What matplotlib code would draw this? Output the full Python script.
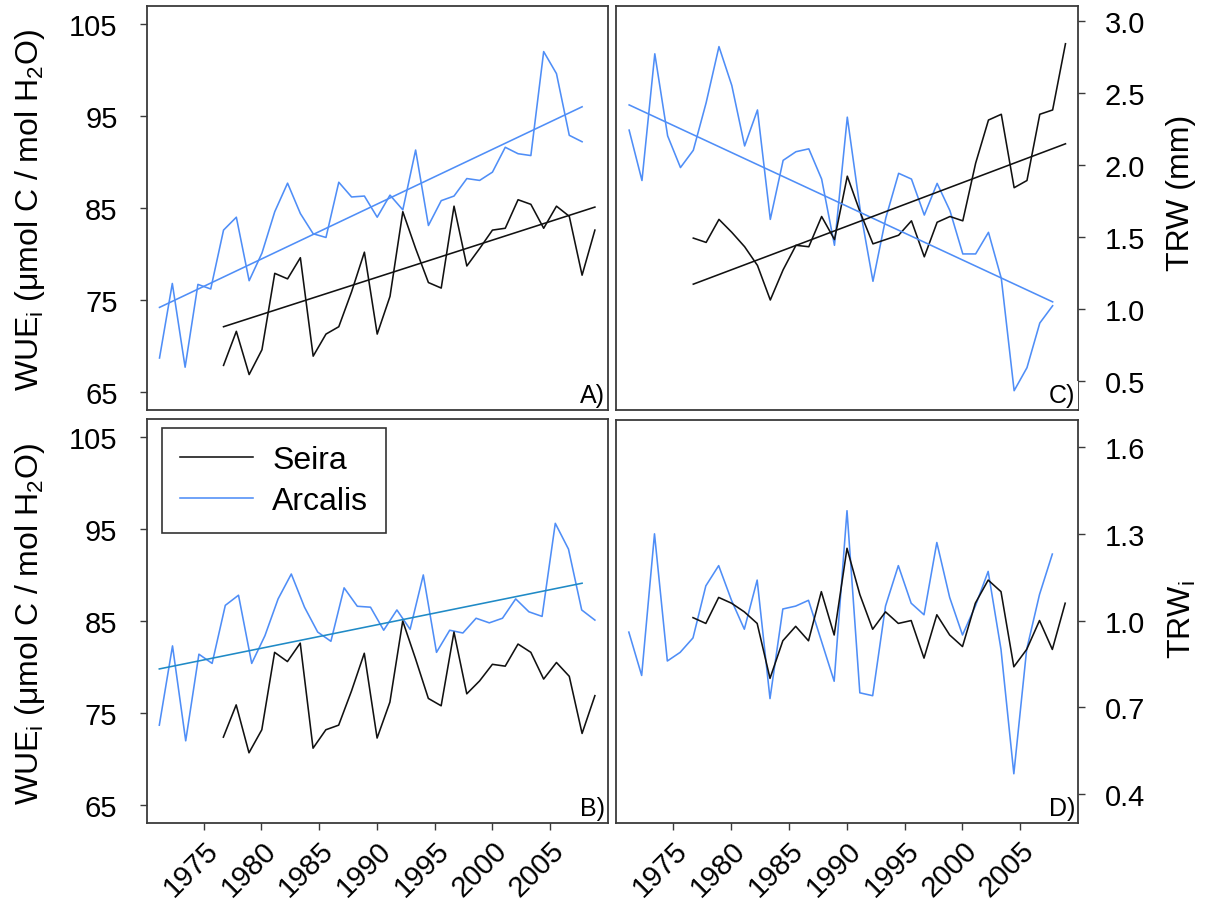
import numpy as np
import matplotlib
matplotlib.use('Agg')
import matplotlib.pyplot as plt
from matplotlib.lines import Line2D

plt.rcParams['font.family'] = ['Liberation Sans', 'DejaVu Sans']
plt.rcParams['mathtext.default'] = 'regular'

# ---------------- data ----------------
years_arcalis = np.arange(1975, 2009)   # 34 points
years_seira = np.arange(1980, 2010)     # 30 points

wue_arcalis_A = [68.7, 76.8, 67.7, 76.7, 76.2, 82.6, 84.0, 77.1, 80.1, 84.6,
                 87.7, 84.4, 82.2, 81.8, 87.8, 86.2, 86.3, 84.0, 86.4, 84.8,
                 91.3, 83.1, 85.8, 86.3, 88.2, 88.0, 88.9, 91.6, 90.9, 90.7,
                 102.0, 99.6, 92.9, 92.2]
wue_seira_A = [67.9, 71.6, 66.9, 69.6, 77.9, 77.3, 79.6, 68.9, 71.3, 72.1,
               75.9, 80.2, 71.3, 75.4, 84.6, 80.6, 76.9, 76.3, 85.2, 78.7,
               80.6, 82.6, 82.8, 85.9, 85.4, 82.8, 85.2, 84.1, 77.7, 82.6]

wue_arcalis_B = [73.7, 82.3, 72.0, 81.4, 80.4, 86.7, 87.8, 80.4, 83.4, 87.4,
                 90.1, 86.5, 83.8, 82.8, 88.6, 86.6, 86.5, 84.0, 86.2, 84.1,
                 90.0, 81.6, 84.0, 83.7, 85.3, 84.8, 85.3, 87.4, 86.0, 85.5,
                 95.6, 92.8, 86.2, 85.1]
wue_seira_B = [72.4, 75.9, 70.7, 73.2, 81.6, 80.6, 82.6, 71.2, 73.2, 73.7,
               77.4, 81.5, 72.3, 76.2, 85.0, 80.9, 76.6, 75.8, 83.8, 77.1,
               78.5, 80.3, 80.1, 82.5, 81.6, 78.7, 80.5, 79.0, 72.8, 76.9]

trw_arcalis = [2.24, 1.89, 2.77, 2.20, 1.98, 2.10, 2.43, 2.82, 2.55, 2.13,
               2.38, 1.62, 2.03, 2.09, 2.11, 1.90, 1.44, 2.33, 1.69, 1.19,
               1.63, 1.94, 1.90, 1.65, 1.87, 1.68, 1.38, 1.38, 1.53, 1.21,
               0.43, 0.59, 0.90, 1.02]
trw_seira = [1.49, 1.46, 1.62, 1.53, 1.43, 1.30, 1.06, 1.27, 1.44, 1.43,
             1.64, 1.48, 1.92, 1.67, 1.45, 1.48, 1.51, 1.61, 1.36, 1.60,
             1.64, 1.61, 2.01, 2.31, 2.35, 1.84, 1.89, 2.35, 2.38, 2.84]

trwi_arcalis = [0.96, 0.81, 1.30, 0.86, 0.89, 0.94, 1.12, 1.19, 1.07, 0.97,
                1.14, 0.73, 1.04, 1.05, 1.07, 0.93, 0.79, 1.38, 0.75, 0.74,
                1.05, 1.19, 1.06, 1.02, 1.27, 1.08, 0.95, 1.05, 1.17, 0.90,
                0.47, 0.90, 1.09, 1.23]
trwi_seira = [1.01, 0.99, 1.08, 1.06, 1.03, 0.99, 0.80, 0.93, 0.98, 0.93,
              1.10, 0.95, 1.25, 1.09, 0.97, 1.03, 0.99, 1.00, 0.87, 1.02,
              0.95, 0.91, 1.06, 1.14, 1.10, 0.84, 0.90, 1.00, 0.90, 1.06]

# linear trends (end points)
trend_years_arcalis = [1975, 2008]
trend_years_seira = [1980, 2009]
trend_A_arcalis = [74.2, 96.0]
trend_A_seira = [72.1, 85.1]
trend_B_arcalis = [79.8, 89.1]
trend_C_arcalis = [2.415, 1.047]
trend_C_seira = [1.170, 2.145]

tick_years = [1975, 1980, 1985, 1990, 1995, 2000, 2005]
wue_ticks = [65, 75, 85, 95, 105]
trw_ticks = [0.5, 1.0, 1.5, 2.0, 2.5, 3.0]
trwi_ticks = [0.4, 0.7, 1.0, 1.3, 1.6]

# ---------------- style ----------------
BLUE = '#4f8ef7'
TEAL = '#1f8ac6'
BLACK = '#111111'
SPINE = '#3a3a3a'
LW = 1.15

W, H = 1208, 903
fig = plt.figure(figsize=(W / 100, H / 100), dpi=100)


def px_axes(x0, y0, x1, y1):
    return fig.add_axes([x0 / W, 1 - y1 / H, (x1 - x0) / W, (y1 - y0) / H])


axA = px_axes(146.7, 7.3, 607.7, 411.0)
axB = px_axes(146.5, 420.0, 607.7, 824.3)
axC = px_axes(616.3, 7.3, 1078.3, 411.0)
axD = px_axes(616.0, 420.5, 1078.0, 824.3)


# the year labels of the original axis are slightly compressed relative to the data
def tick_pos(label):
    return 1978.47 + (label - 1975) * 0.9006


for ax in (axA, axB, axC, axD):
    ax.set_xlim(1974.0, 2010.0)
    for s in ax.spines.values():
        s.set_color(SPINE)
        s.set_linewidth(1.3)
    ax.set_xticks([tick_pos(t) for t in tick_years])

for ax in (axA, axC):
    ax.tick_params(axis='x', bottom=False, labelbottom=False)

for ax in (axB, axD):
    ax.set_xticklabels([str(t) for t in tick_years])
    ax.tick_params(axis='x', direction='out', length=5, width=1.0, color=SPINE,
                   labelsize=21, pad=4)
    for lab in ax.get_xticklabels():
        lab.set_rotation(45)
        lab.set_ha('right')
        lab.set_va('top')
        lab.set_rotation_mode('anchor')

for ax in (axA, axB):
    ax.set_ylim(63.05, 106.92)
    ax.set_yticks(wue_ticks)
    ax.tick_params(axis='y', direction='out', length=5, width=1.0, color=SPINE,
                   labelsize=21, pad=16)

axC.set_ylim(0.296, 3.10)
axC.set_yticks(trw_ticks)
axC.set_yticklabels([f'{v:.1f}' for v in trw_ticks])
axD.set_ylim(0.2986, 1.6955)
axD.set_yticks(trwi_ticks)
axD.set_yticklabels([f'{v:.1f}' for v in trwi_ticks])
for ax in (axC, axD):
    ax.yaxis.tick_right()
    ax.tick_params(axis='y', direction='out', length=5, width=1.0, color=SPINE,
                   labelsize=21, pad=14, left=False)

# ---------------- series ----------------
# Panel A
axA.plot(years_arcalis, wue_arcalis_A, color=BLUE, lw=LW)
axA.plot(years_seira, wue_seira_A, color=BLACK, lw=LW)
axA.plot(trend_years_arcalis, trend_A_arcalis, color=BLUE, lw=LW)
axA.plot(trend_years_seira, trend_A_seira, color=BLACK, lw=LW)

# Panel B (Arcalis curve drawn stretched over the full span in the original)
x_arcalis_B = np.linspace(years_arcalis[0], years_seira[-1], len(wue_arcalis_B))
axB.plot(x_arcalis_B, wue_arcalis_B, color=BLUE, lw=LW)
axB.plot(years_seira, wue_seira_B, color=BLACK, lw=LW)
axB.plot(trend_years_arcalis, trend_B_arcalis, color=TEAL, lw=LW)

# Panel C
axC.plot(years_arcalis, trw_arcalis, color=BLUE, lw=LW)
axC.plot(years_seira, trw_seira, color=BLACK, lw=LW)
axC.plot(trend_years_arcalis, trend_C_arcalis, color=BLUE, lw=LW)
axC.plot(trend_years_seira, trend_C_seira, color=BLACK, lw=LW)

# Panel D
axD.plot(years_arcalis, trwi_arcalis, color=BLUE, lw=LW)
axD.plot(years_seira, trwi_seira, color=BLACK, lw=LW)

# panel letters
for ax, lab in ((axA, 'A)'), (axB, 'B)'), (axC, 'C)'), (axD, 'D)')):
    ax.text(0.994, 0.008, lab, transform=ax.transAxes, ha='right', va='bottom',
            fontsize=18, color='black',
            bbox=dict(facecolor='white', edgecolor='none', pad=1.5))

# legend
handles = [Line2D([], [], color=BLACK, lw=LW), Line2D([], [], color=BLUE, lw=LW)]
leg = axB.legend(handles, ['Seira', 'Arcalis'], loc='upper left',
                 bbox_to_anchor=(0.034, 0.978), borderaxespad=0, fontsize=23,
                 frameon=True, fancybox=False, handlelength=2.3,
                 handletextpad=0.6, labelspacing=0.32, borderpad=0.55)
leg.get_frame().set_edgecolor('black')
leg.get_frame().set_linewidth(1.2)

# axis titles
ylab = r'WUE$_\mathregular{i}$ (μmol C / mol H$_\mathregular{2}$O)'
fig.text(30 / W, 1 - 210 / H, ylab, rotation=90, ha='center', va='center', fontsize=23)
fig.text(30 / W, 1 - 624 / H, ylab, rotation=90, ha='center', va='center', fontsize=23)
fig.text(1181 / W, 1 - 193 / H, 'TRW (mm)', rotation=90, ha='center', va='center', fontsize=23)
fig.text(1182 / W, 1 - 620 / H, r'TRW$_\mathregular{i}$', rotation=90, ha='center',
         va='center', fontsize=23)

fig.savefig('out.png', dpi=100)
